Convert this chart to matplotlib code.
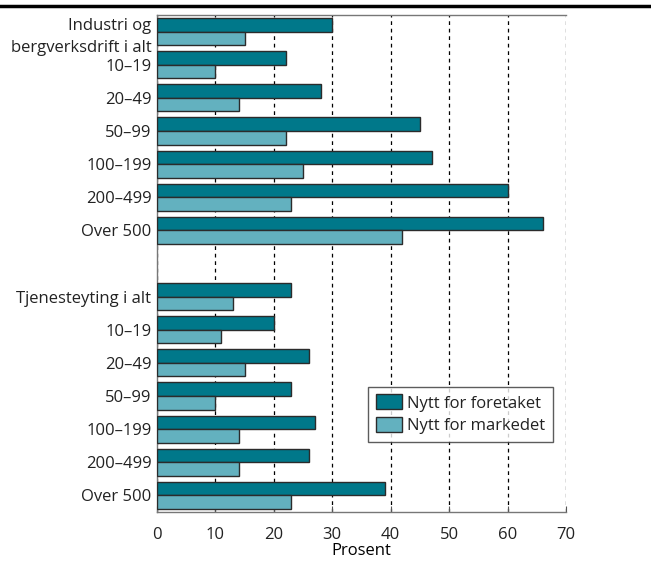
import matplotlib.pyplot as plt
import numpy as np
from matplotlib.lines import Line2D

plt.rcParams['font.family'] = ['Open Sans', 'DejaVu Sans']
plt.rcParams['text.color'] = '#222222'
plt.rcParams['xtick.labelcolor'] = '#222222'
plt.rcParams['ytick.labelcolor'] = '#222222'

# data
labels = ['Industri og\nbergverksdrift i alt', '10–19', '20–49', '50–99', '100–199', '200–499', 'Over 500',
          '',
          'Tjenesteyting i alt', '10–19', '20–49', '50–99', '100–199', '200–499', 'Over 500']
foretaket = [30, 22, 28, 45, 47, 60, 66, np.nan, 23, 20, 26, 23, 27, 26, 39]
markedet = [15, 10, 14, 22, 25, 23, 42, np.nan, 13, 11, 15, 10, 14, 14, 23]

dark = '#00788a'
light = '#63b1bf'
edge = '#2b2b2b'

fig = plt.figure(figsize=(6.51, 5.63), dpi=100)
ax = fig.add_axes([157/651, 1 - 512/563, (566-157)/651, (512-15)/563])

y = np.arange(len(labels))
h = 0.41
ax.barh(y - h/2, foretaket, height=h, color=dark, edgecolor=edge, linewidth=1, label='Nytt for foretaket', zorder=3)
ax.barh(y + h/2, markedet, height=h, color=light, edgecolor=edge, linewidth=1, label='Nytt for markedet', zorder=3)

ax.set_ylim(len(labels) - 0.5, -0.5)
ax.set_xlim(0, 70)
ax.set_xticks(range(0, 71, 10))
ax.set_yticks(y)
ax.set_yticklabels(labels, fontsize=12, linespacing=1.5)
ax.tick_params(axis='y', length=0, pad=4)
ax.tick_params(axis='x', direction='in', length=4, color='#555555', labelsize=12, pad=11)
ax.set_xlabel('Prosent', fontsize=12, labelpad=0)

ax.grid(axis='x', linestyle=(0, (3, 3)), color='black', linewidth=0.9, zorder=0)
for s in ['left', 'bottom', 'top']:
    ax.spines[s].set_color('#777777')
    ax.spines[s].set_linewidth(1)
ax.spines['right'].set_visible(False)

leg = ax.legend(loc='lower right', bbox_to_anchor=(553/651, 1 - 442/563), bbox_transform=fig.transFigure,
                fontsize=12, frameon=True, fancybox=False, edgecolor='#333333', borderpad=0.45,
                handlelength=1.6, handleheight=1.0, handletextpad=0.3, labelspacing=0.35, borderaxespad=0)
leg.get_frame().set_linewidth(1)

fig.add_artist(Line2D([0, 1], [1 - 6/563, 1 - 6/563], color='black', linewidth=2.5, transform=fig.transFigure))

fig.savefig('out.png', dpi=100)
